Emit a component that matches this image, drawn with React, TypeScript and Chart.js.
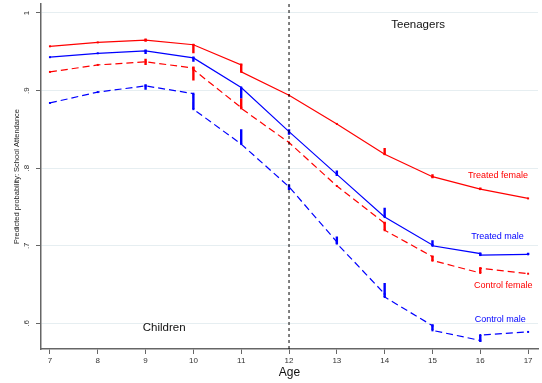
import React, { useEffect, useRef } from "react";
import { Chart, registerables } from "chart.js";

Chart.register(...registerables);

// ---- data ----
const ages = [7, 8, 9, 10, 11, 12, 13, 14, 15, 16, 17];
const yTicks = [0.6, 0.7, 0.8, 0.9, 1.0];
const yTickLabels = [".6", ".7", ".8", ".9", "1"];
const separatorAge = 12;

// value where the line arrives at each age, and where it leaves it
const treatedFemaleIn = [0.957, 0.962, 0.965, 0.959, 0.933, 0.894, 0.857, 0.818, 0.789, 0.773, 0.761];
const treatedFemaleOut = [0.957, 0.962, 0.965, 0.959, 0.924, 0.894, 0.857, 0.818, 0.789, 0.773, 0.761];
const treatedFemaleSpikes = [null, null, [0.963, 0.967], [0.948, 0.96], [0.924, 0.935], null, null, [0.817, 0.826], [0.787, 0.792], [0.772, 0.775], null];

const treatedMaleIn = [0.943, 0.948, 0.951, 0.942, 0.904, 0.847, 0.792, 0.737, 0.701, 0.69, 0.689];
const treatedMaleOut = [0.943, 0.948, 0.951, 0.942, 0.904, 0.847, 0.792, 0.737, 0.7, 0.688, 0.689];
const treatedMaleSpikes = [null, null, [0.947, 0.953], [0.937, 0.944], [0.89, 0.904], [0.843, 0.85], [0.79, 0.797], [0.737, 0.749], [0.7, 0.707], [0.687, 0.691], [0.688, 0.691]];

const controlFemaleIn = [0.924, 0.933, 0.937, 0.929, 0.878, 0.833, 0.777, 0.729, 0.686, 0.665, 0.664];
const controlFemaleOut = [0.924, 0.933, 0.937, 0.927, 0.877, 0.833, 0.777, 0.72, 0.681, 0.671, 0.664];
const controlFemaleSpikes = [null, null, [0.933, 0.941], [0.913, 0.931], [0.877, 0.89], null, null, [0.72, 0.731], [0.68, 0.687], [0.665, 0.672], null];

const controlMaleIn = [0.884, 0.898, 0.906, 0.896, 0.831, 0.776, 0.705, 0.638, 0.597, 0.578, 0.589];
const controlMaleOut = [0.884, 0.898, 0.906, 0.876, 0.831, 0.776, 0.703, 0.634, 0.591, 0.585, 0.589];
const controlMaleSpikes = [null, null, [0.901, 0.908], [0.876, 0.896], [0.831, 0.85], [0.772, 0.779], [0.702, 0.712], [0.634, 0.652], [0.591, 0.599], [0.576, 0.585], null];

const seriesNames = ["Treated female", "Treated male", "Control female", "Control male"];

const RED = "#ff0000";
const BLUE = "#0000ff";
const FONT = "'Liberation Sans', Arial, Helvetica, sans-serif";

// annotation anchors in data coordinates
const seriesLabelAnchors = [
  { text: seriesNames[0], age: 16.37, value: 0.79, color: RED },
  { text: seriesNames[1], age: 16.36, value: 0.7125, color: BLUE },
  { text: seriesNames[2], age: 16.48, value: 0.6494, color: RED },
  { text: seriesNames[3], age: 16.42, value: 0.6055, color: BLUE },
];
const periodLabels = [
  { text: "Teenagers", age: 14.7, value: 0.9844 },
  { text: "Children", age: 9.39, value: 0.594 },
];

function pathPoints(inv: number[], outv: number[]) {
  const pts: { x: number; y: number }[] = [];
  ages.forEach((a, i) => {
    pts.push({ x: a, y: inv[i] });
    if (outv[i] !== inv[i]) pts.push({ x: a, y: outv[i] });
  });
  return pts;
}

function spikePoints(sp: (number[] | null)[]) {
  const pts: { x: number; y: number | null }[] = [];
  ages.forEach((a, i) => {
    const s = sp[i];
    if (!s) return;
    pts.push({ x: a, y: s[0] });
    pts.push({ x: a, y: s[1] });
    pts.push({ x: a, y: null });
  });
  return pts;
}

function lineDs(label: string, data: any, color: string, dashed: boolean) {
  return {
    type: "line",
    label,
    data,
    borderColor: color,
    backgroundColor: color,
    borderWidth: 1.2,
    borderDash: dashed ? [7, 4] : [],
    pointStyle: "rect",
    pointRadius: 1.4,
    pointBorderWidth: 0,
    pointBackgroundColor: color,
    fill: false,
    tension: 0,
  };
}

function spikeDs(label: string, data: any, color: string) {
  return {
    type: "line",
    label,
    data,
    borderColor: color,
    borderWidth: 2.4,
    borderDash: [],
    pointRadius: 0,
    fill: false,
    spanGaps: false,
    tension: 0,
  };
}

const textPlugin = {
  id: "textPlugin",
  afterDatasetsDraw(chart: any) {
    const ctx = chart.ctx;
    const xs = chart.scales.x;
    const ys = chart.scales.y;
    const area = chart.chartArea;
    ctx.save();
    // vertical separator
    const sx = xs.getPixelForValue(separatorAge);
    ctx.strokeStyle = "#000";
    ctx.lineWidth = 1;
    ctx.setLineDash([3, 3]);
    ctx.beginPath();
    ctx.moveTo(sx, area.top);
    ctx.lineTo(sx, area.bottom);
    ctx.stroke();
    ctx.setLineDash([]);

    // y tick labels (rotated)
    ctx.fillStyle = "#333";
    ctx.font = `8px ${FONT}`;
    ctx.textAlign = "center";
    ctx.textBaseline = "middle";
    yTicks.forEach((v, i) => {
      ctx.save();
      ctx.translate(27, ys.getPixelForValue(v));
      ctx.rotate(-Math.PI / 2);
      ctx.fillText(yTickLabels[i], 0, 0);
      ctx.restore();
    });
    // y title
    ctx.save();
    ctx.translate(17, (area.top + area.bottom) / 2);
    ctx.rotate(-Math.PI / 2);
    ctx.font = `7.5px ${FONT}`;
    ctx.fillStyle = "#222";
    ctx.fillText("Predicted probability: School Attendance", 0, 0);
    ctx.restore();

    // series labels
    ctx.font = `9px ${FONT}`;
    seriesLabelAnchors.forEach((l) => {
      ctx.fillStyle = l.color;
      ctx.fillText(l.text, xs.getPixelForValue(l.age), ys.getPixelForValue(l.value));
    });
    // period labels
    ctx.font = `11.5px ${FONT}`;
    ctx.fillStyle = "#111";
    periodLabels.forEach((l) => {
      ctx.fillText(l.text, xs.getPixelForValue(l.age), ys.getPixelForValue(l.value));
    });
    ctx.restore();
  },
};

export default function App() {
  const ref = useRef<HTMLCanvasElement | null>(null);
  useEffect(() => {
    if (!ref.current) return;
    const chart = new Chart(ref.current, {
      type: "line",
      data: {
        datasets: [
          lineDs(seriesNames[0], pathPoints(treatedFemaleIn, treatedFemaleOut), RED, false),
          spikeDs(seriesNames[0] + " spikes", spikePoints(treatedFemaleSpikes), RED),
          lineDs(seriesNames[1], pathPoints(treatedMaleIn, treatedMaleOut), BLUE, false),
          spikeDs(seriesNames[1] + " spikes", spikePoints(treatedMaleSpikes), BLUE),
          lineDs(seriesNames[2], pathPoints(controlFemaleIn, controlFemaleOut), RED, true),
          spikeDs(seriesNames[2] + " spikes", spikePoints(controlFemaleSpikes), RED),
          lineDs(seriesNames[3], pathPoints(controlMaleIn, controlMaleOut), BLUE, true),
          spikeDs(seriesNames[3] + " spikes", spikePoints(controlMaleSpikes), BLUE),
        ] as any,
      },
      options: {
        animation: false,
        responsive: true,
        maintainAspectRatio: false,
        layout: { padding: { top: 4, left: 0, right: 0, bottom: 0 } },
        plugins: { legend: { display: false }, tooltip: { enabled: false } },
        scales: {
          x: {
            type: "linear",
            min: 6.813,
            max: 17.207,
            afterBuildTicks: (s: any) => {
              s.ticks = ages.map((v) => ({ value: v }));
            },
            afterFit: (s: any) => {
              s.height = 34;
            },
            ticks: {
              color: "#333",
              font: { size: 8, family: FONT },
              padding: 2,
              maxRotation: 0,
              minRotation: 0,
              callback: (v: any) => String(v),
            },
            grid: {
              drawOnChartArea: false,
              drawTicks: true,
              tickLength: 5,
              tickColor: "#666",
              tickWidth: 1,
            },
            border: { display: true, color: "#666", width: 1.5 },
            title: {
              display: true,
              text: "Age",
              color: "#111",
              font: { size: 12, family: FONT },
              padding: { top: 0, bottom: 3 },
            },
          },
          y: {
            type: "linear",
            min: 0.567,
            max: 1.0115,
            afterBuildTicks: (s: any) => {
              s.ticks = yTicks.map((v) => ({ value: v }));
            },
            afterFit: (s: any) => {
              s.width = 41;
            },
            ticks: { display: false },
            grid: {
              color: "#e6eef1",
              lineWidth: 1,
              drawTicks: true,
              tickLength: 5,
              tickColor: "#666",
              tickWidth: 1,
            },
            border: { display: true, color: "#666", width: 1.5 },
          },
        },
      } as any,
      plugins: [textPlugin],
    });
    return () => chart.destroy();
  }, []);
  return (
    <div style={{ position: "fixed", left: 0, top: 0, width: 542, height: 383, background: "#fff" }}>
      <canvas ref={ref} />
    </div>
  );
}
